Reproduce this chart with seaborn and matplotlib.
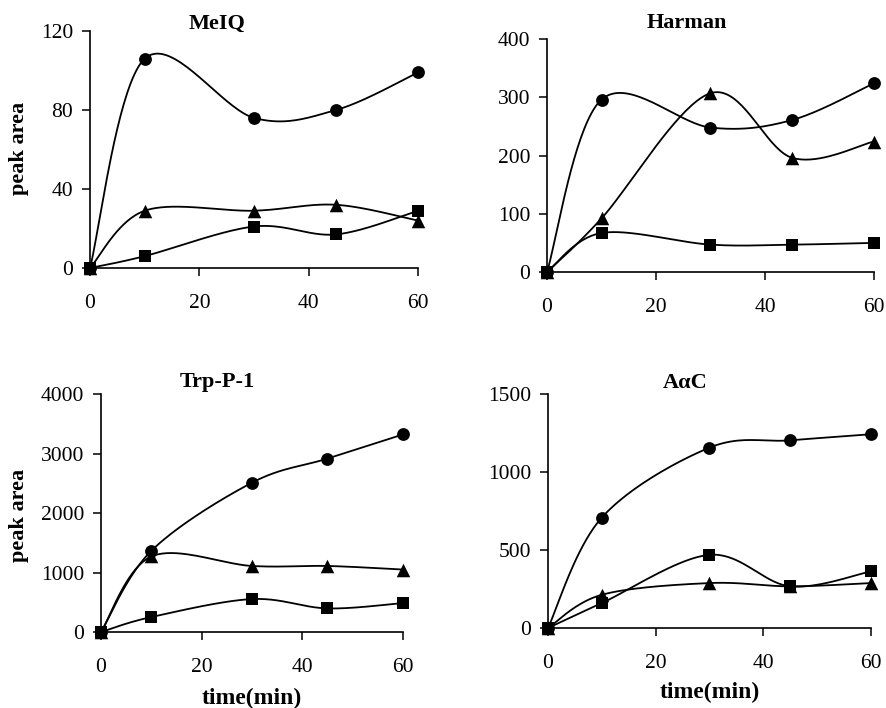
import numpy as np
import pandas as pd
import matplotlib
matplotlib.use("Agg")
import matplotlib.pyplot as plt
import seaborn as sns

# ---- data ----
time_min = [0, 10, 30, 45, 60]

meiq_circle = [0, 106, 76, 80, 99]
meiq_triangle = [0, 29, 29, 32, 24]
meiq_square = [0, 6, 21, 17, 29]

harman_circle = [0, 296, 248, 261, 324]
harman_triangle = [0, 92, 307, 196, 224]
harman_square = [0, 67, 47, 47, 50]

trp_circle = [0, 1365, 2510, 2915, 3320]
trp_triangle = [0, 1270, 1110, 1110, 1050]
trp_square = [0, 252, 554, 397, 487]

aac_circle = [0, 708, 1156, 1203, 1242]
aac_triangle = [0, 213, 288, 267, 288]
aac_square = [0, 160, 469, 267, 363]

titles = ["MeIQ", "Harman", "Trp-P-1", "A\u03b1C"]
y_ticks = [[0, 40, 80, 120], [0, 100, 200, 300, 400],
           [0, 1000, 2000, 3000, 4000], [0, 500, 1000, 1500]]
x_ticks = [0, 20, 40, 60]

panels = [
    (meiq_circle, meiq_triangle, meiq_square),
    (harman_circle, harman_triangle, harman_square),
    (trp_circle, trp_triangle, trp_square),
    (aac_circle, aac_triangle, aac_square),
]


def smooth(xs, ys, n=40):
    """Excel-like smoothed line (Catmull-Rom as cubic Bezier)."""
    P = np.column_stack([xs, ys]).astype(float)
    m = len(P)
    out = []
    for i in range(m - 1):
        p0 = P[max(i - 1, 0)]
        p1 = P[i]
        p2 = P[i + 1]
        p3 = P[min(i + 2, m - 1)]
        c1 = p1 + (p2 - p0) / 6.0
        c2 = p2 - (p3 - p1) / 6.0
        t = np.linspace(0, 1, n)[:, None]
        seg = ((1 - t) ** 3) * p1 + 3 * ((1 - t) ** 2) * t * c1 + 3 * (1 - t) * t ** 2 * c2 + t ** 3 * p2
        if i > 0:
            seg = seg[1:]
        out.append(seg)
    out = np.vstack(out)
    return out[:, 0], out[:, 1]


sns.set_style("ticks")
plt.rcParams["font.family"] = ["Liberation Serif", "DejaVu Serif"]
plt.rcParams["text.color"] = "black"
plt.rcParams["axes.labelcolor"] = "black"
plt.rcParams["xtick.color"] = "black"
plt.rcParams["ytick.color"] = "black"

fig = plt.figure(figsize=(8.87, 7.08), dpi=100)

# axes positions in figure fractions [left, bottom, width, height]
positions = [
    [0.1015, 0.6215, 0.3698, 0.3347],
    [0.6167, 0.6158, 0.3686, 0.3291],
    [0.1139, 0.1073, 0.3404, 0.3362],
    [0.6178, 0.1130, 0.3641, 0.3305],
]
title_xy = [(217, 24), (687, 23), (217, 382), (685, 383)]
markers = ["o", "^", "s"]

for k, (pos, series) in enumerate(zip(positions, panels)):
    ax = fig.add_axes(pos)
    for vals, mk in zip(series, markers):
        sx, sy = smooth(time_min, vals)
        sns.lineplot(x=sx, y=sy, ax=ax, color="black", linewidth=1.3,
                     sort=False, estimator=None, legend=False)
        sns.scatterplot(x=time_min, y=vals, ax=ax, marker=mk, color="black",
                        s=85 if mk != "^" else 95, edgecolor="black",
                        linewidth=0, zorder=5, clip_on=False, legend=False)
    ax.set_xlim(0, 60)
    ax.set_ylim(y_ticks[k][0], y_ticks[k][-1])
    ax.set_xticks(x_ticks)
    ax.set_yticks(y_ticks[k])
    ax.tick_params(axis="both", direction="out", length=6, width=1.1,
                   labelsize=15.5, colors="black", labelcolor="black")
    ax.tick_params(axis="x", pad=13)
    ax.tick_params(axis="y", pad=6)
    sns.despine(ax=ax)
    for s in ["left", "bottom"]:
        ax.spines[s].set_linewidth(1.2)
        ax.spines[s].set_color("black")
    for line in ax.lines:
        line.set_clip_on(False)
    tx, ty = title_xy[k]
    fig.text(tx / 887, 1 - ty / 708, titles[k], ha="center", va="center",
             fontsize=16, fontweight="bold", color="black")

# y labels
fig.text(19 / 887, 1 - 148 / 708, "peak area", rotation=90, ha="center",
         va="center", fontsize=16, fontweight="bold", color="black")
fig.text(19 / 887, 1 - 515 / 708, "peak area", rotation=90, ha="center",
         va="center", fontsize=16, fontweight="bold", color="black")
# x labels
fig.text(252 / 887, 1 - 698 / 708, "time(min)", ha="center", va="center",
         fontsize=17, fontweight="bold", color="black")
fig.text(710 / 887, 1 - 692 / 708, "time(min)", ha="center", va="center",
         fontsize=17, fontweight="bold", color="black")

fig.savefig("out.png", dpi=100)
